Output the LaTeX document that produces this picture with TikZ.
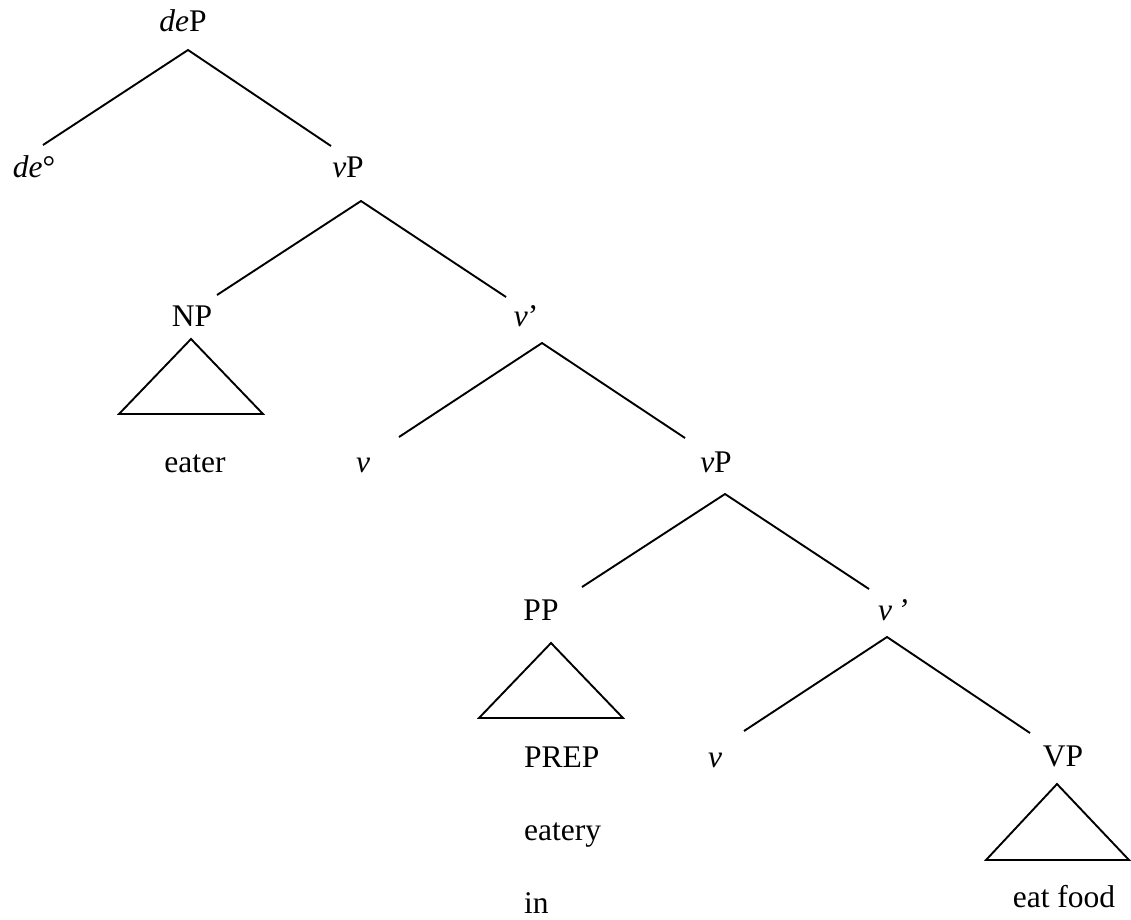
\documentclass[tikz,border=0pt]{standalone}
\usepackage{fontspec}
\setmainfont{Liberation Serif}
\begin{document}
\begin{tikzpicture}[x=1pt,y=-1pt,
  lbl/.style={anchor=base,inner sep=0pt,font=\fontsize{31.5}{37}\selectfont},
  lblw/.style={lbl,anchor=base west},
  branch/.style={line width=1.9pt},
  tri/.style={line width=1.9pt,line join=miter}]
\useasboundingbox (0,0) rectangle (1131,919);
% labels
\node[lbl] (deP) at (183,31) {\textit{de}P};
\node[lbl] (deo) at (34,177) {\textit{de}°};
\node[lbl] (vP1) at (348,177) {\textit{v}P};
\node[lbl] (NP) at (192,326) {NP};
\node[lbl] (vb1) at (526,326) {\textit{v}’};
\node[lbl] (eater) at (195,472) {eater};
\node[lbl] (v1) at (363,472) {\textit{v}};
\node[lbl] (vP2) at (716,472) {\textit{v}P};
\node[lbl] (PP) at (541,620) {PP};
\node[lbl] (vb2) at (893,620) {\textit{v\,’}};
\node[lblw] (PREP) at (524,767) {PREP};
\node[lbl] (v2) at (715,767) {\textit{v}};
\node[lbl] (VP) at (1063,766) {VP};
\node[lblw] (eatery) at (524,840) {eatery};
\node[lblw] (in) at (524,913) {in};
\node[lbl] (eatfood) at (1064,907) {eat food};
% branch points
\coordinate (deP-a) at (188,50);
\coordinate (deo-t) at (43,145);
\coordinate (vP1-t) at (331,146);
\coordinate (vP1-a) at (361,201);
\coordinate (NP-t) at (217,295);
\coordinate (vb1-t) at (506,297);
\coordinate (vb1-a) at (542,343);
\coordinate (v1-t) at (399,437);
\coordinate (vP2-t) at (685,438);
\coordinate (vP2-a) at (725,494);
\coordinate (PP-t) at (582,587);
\coordinate (vb2-t) at (869,589);
\coordinate (vb2-a) at (887,637);
\coordinate (v2-t) at (744,731);
\coordinate (VP-t) at (1030,733);
% triangles
\coordinate (NP-a) at (191,339);
\coordinate (NP-l) at (119,414);
\coordinate (NP-r) at (263,414);
\coordinate (PP-a) at (551,643);
\coordinate (PP-l) at (479,718);
\coordinate (PP-r) at (623,718);
\coordinate (VP-a) at (1057,784);
\coordinate (VP-l) at (986,860);
\coordinate (VP-r) at (1129,860);
% connectors
\draw[branch] (deo-t) -- (deP-a) -- (vP1-t);
\draw[branch] (NP-t) -- (vP1-a) -- (vb1-t);
\draw[branch] (v1-t) -- (vb1-a) -- (vP2-t);
\draw[branch] (PP-t) -- (vP2-a) -- (vb2-t);
\draw[branch] (v2-t) -- (vb2-a) -- (VP-t);
\draw[tri] (NP-a) -- (NP-l) -- (NP-r) -- cycle;
\draw[tri] (PP-a) -- (PP-l) -- (PP-r) -- cycle;
\draw[tri] (VP-a) -- (VP-l) -- (VP-r) -- cycle;
\end{tikzpicture}
\end{document}
